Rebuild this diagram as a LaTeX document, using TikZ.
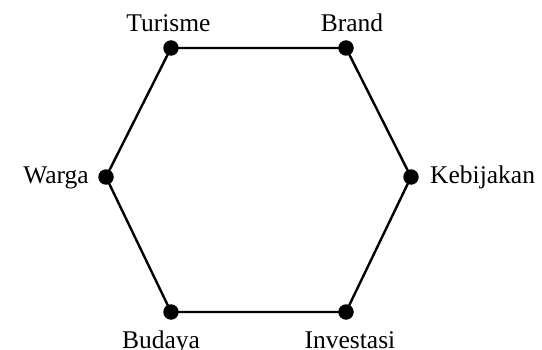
\documentclass[tikz,border=0pt]{standalone}
\usepackage{fontspec}
\setmainfont{Liberation Serif}
\begin{document}
\begin{tikzpicture}[x=1pt,y=1pt,
  vdot/.style={circle,fill=black,inner sep=0pt,minimum size=15.5pt},
  edge/.style={line width=2.4pt},
  lbl/.style={inner sep=0pt,font=\fontsize{25.5}{30}\selectfont}]
\useasboundingbox (0,0) rectangle (542,349);
\node[vdot] (t) at (171,301) {};
\node[vdot] (b) at (346,301) {};
\node[vdot] (k) at (411,172) {};
\node[vdot] (i) at (346,37) {};
\node[vdot] (u) at (171,37) {};
\node[vdot] (w) at (106,172) {};
\draw[edge] (t.center) -- (b.center) -- (k.center) -- (i.center) -- (u.center) -- (w.center) -- cycle;
\node[lbl,anchor=base] (lt) at (168.5,317) {Turisme};
\node[lbl,anchor=base] (lb) at (352,317) {Brand};
\node[lbl,anchor=base west] (lk) at (430,165) {Kebijakan};
\node[lbl,anchor=base east] (lw) at (89,165) {Warga};
\node[lbl,anchor=base] (lu) at (161,0.5) {Budaya};
\node[lbl,anchor=base] (li) at (350,0.5) {Investasi};
\end{tikzpicture}
\end{document}
